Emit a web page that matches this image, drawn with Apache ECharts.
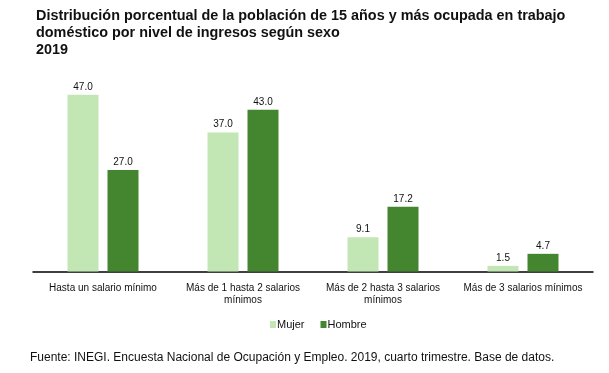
<!DOCTYPE html>
<html><head><meta charset="utf-8">
<script src="https://cdn.jsdelivr.net/npm/echarts@6/dist/echarts.min.js"></script>
<style>html,body{margin:0;padding:0;background:#fff}#c{width:609px;height:373px}</style>
</head><body><div id="c"></div>
<script>
const categories = ["Hasta un salario mínimo", "Más de 1 hasta 2 salarios\nmínimos", "Más de 2 hasta 3 salarios\nmínimos", "Más de 3 salarios mínimos"];
const mujer = [47.0, 37.0, 9.1, 1.5];
const hombre = [27.0, 43.0, 17.2, 4.7];
const titleText = "Distribución porcentual de la población de 15 años y más ocupada en trabajo\ndoméstico por nivel de ingresos según sexo\n2019";
const sourceText = "Fuente: INEGI. Encuesta Nacional de Ocupación y Empleo. 2019, cuarto trimestre. Base de datos.";
const FONT = "Liberation Sans, Arial, sans-serif";
const chart = echarts.init(document.getElementById('c'));
const lbl = {show:true, position:'top', distance:3, fontSize:10, color:'#111', fontFamily:FONT, formatter: p => p.value.toFixed(1)};
chart.setOption({
  animation:false,
  textStyle:{fontFamily:FONT},
  title:{text:titleText, left:36, top:8, padding:0, textStyle:{fontSize:14.4, fontWeight:'bold', color:'#111', lineHeight:16.7, fontFamily:FONT}},
  grid:{left:33, right:16, top:83.5, bottom:101.5, containLabel:false},
  legend:{top:319, left:270, padding:0, itemWidth:6, itemHeight:7, itemGap:16, icon:'rect',
    textStyle:{fontSize:11, color:'#111', padding:[0,0,0,-4]}, data:['Mujer','Hombre']},
  xAxis:{type:'category', data:categories, axisTick:{show:false},
    axisLine:{lineStyle:{color:'#000', width:1.5}},
    axisLabel:{fontSize:10, color:'#111', lineHeight:12, margin:10.5, interval:0}},
  yAxis:{type:'value', min:0, max:50, show:false, splitLine:{show:false}},
  series:[
    {name:'Mujer', type:'bar', data:mujer, barWidth:31, barGap:'29%', itemStyle:{color:'#c3e6b5'}, label:lbl},
    {name:'Hombre', type:'bar', data:hombre, barWidth:31, itemStyle:{color:'#43862f'}, label:lbl}
  ],
  graphic:[{type:'text', left:30, top:352, style:{text:sourceText, fontSize:12, fill:'#111', fontFamily:FONT}}]
});
</script></body></html>
